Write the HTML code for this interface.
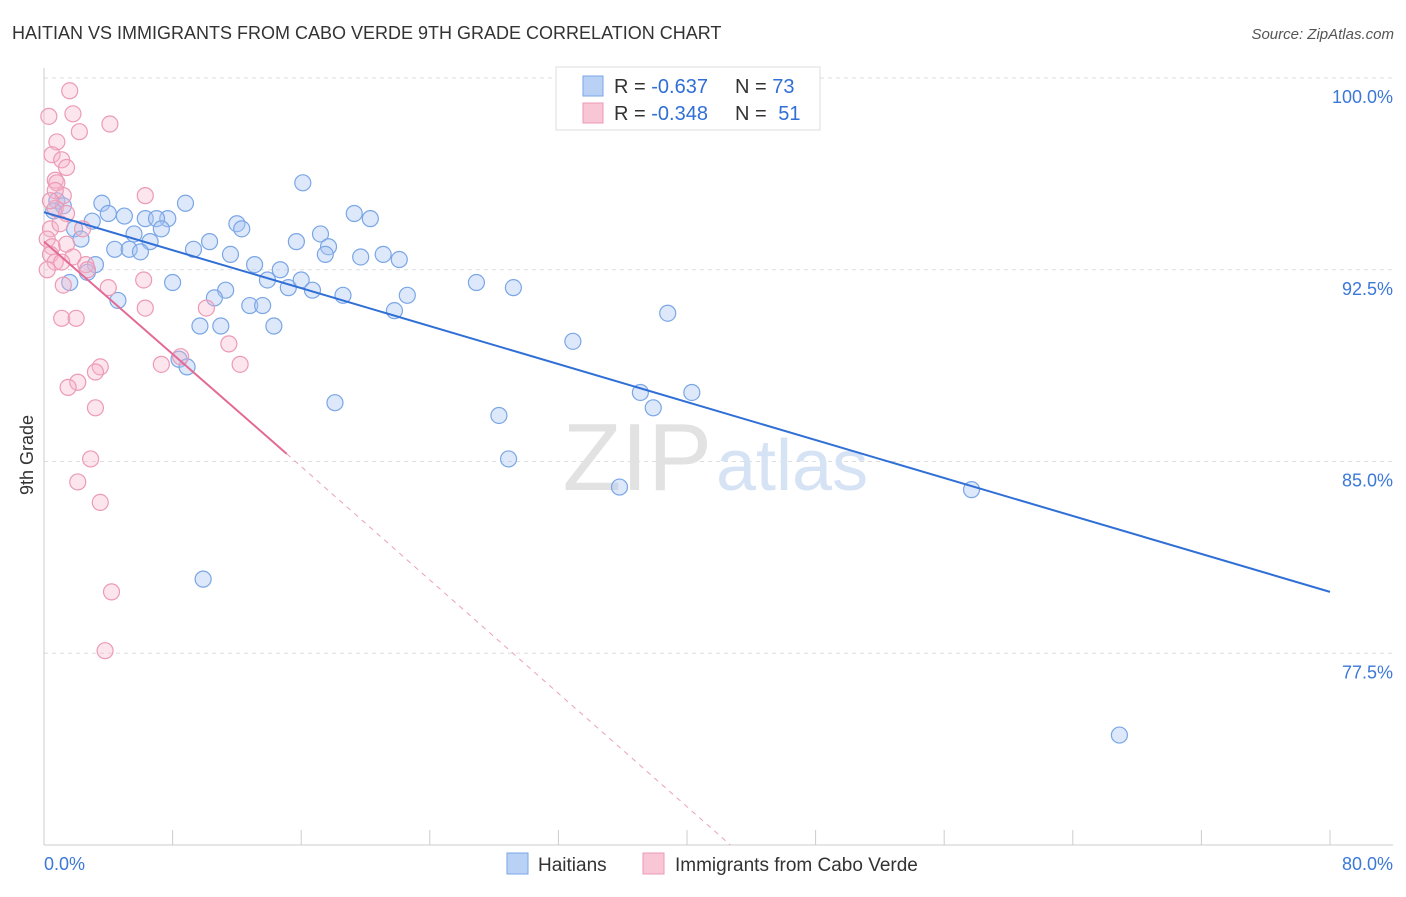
<!DOCTYPE html>
<html><head><meta charset="utf-8"><style>
body{margin:0;background:#fff;font-family:"Liberation Sans",sans-serif;}
svg text{font-family:"Liberation Sans",sans-serif;}
</style></head><body>
<svg id="chart" width="1406" height="892" xmlns="http://www.w3.org/2000/svg">
<text x="12" y="39" font-size="18" fill="#333">HAITIAN VS IMMIGRANTS FROM CABO VERDE 9TH GRADE CORRELATION CHART</text>
<text x="1394" y="39" font-size="15" fill="#555" text-anchor="end" font-style="italic">Source: ZipAtlas.com</text>
<g id="grid"></g>
<g id="axes"></g>
<text x="712" y="490" font-size="96" fill="#e2e2e2" text-anchor="end" font-family="Liberation Serif">ZIP</text>
<text x="716" y="490" font-size="72" fill="#d6e3f5">atlas</text>
<g id="marks"></g>
<text x="33" y="455" font-size="18" fill="#333" text-anchor="middle" transform="rotate(-90 33 455)">9th Grade</text>
<g>
<rect x="556" y="67" width="264" height="63" fill="#fff" stroke="#ddd"/>
<rect x="583" y="76" width="20" height="20" fill="#b9d1f5" stroke="#7aa6e6"/>
<rect x="583" y="103" width="20" height="20" fill="#f9c6d6" stroke="#ec9ab5"/>
<text x="614" y="93" font-size="20" fill="#333">R = <tspan fill="#2f6fd6">-0.637</tspan></text>
<text x="735" y="93" font-size="20" fill="#333">N = <tspan fill="#2f6fd6">73</tspan></text>
<text x="614" y="120" font-size="20" fill="#333">R = <tspan fill="#2f6fd6">-0.348</tspan></text>
<text x="735" y="120" font-size="20" fill="#333">N = <tspan fill="#2f6fd6" dx="6">51</tspan></text>
</g>
<g>
<rect x="507" y="853" width="21" height="21" fill="#b9d1f5" stroke="#7aa6e6"/>
<text x="538" y="871" font-size="19" fill="#333">Haitians</text>
<rect x="643" y="853" width="21" height="21" fill="#f9c6d6" stroke="#ec9ab5"/>
<text x="675" y="871" font-size="19" fill="#333">Immigrants from Cabo Verde</text>
</g>
</svg>
<script>
const blueX=[32.5,16.1,8.8,3.6,0.8,1.2,0.6,4.0,5.0,19.3,20.3,6.3,7.7,7.0,12.0,12.3,3.0,7.3,5.6,17.2,1.9,2.3,6.6,10.3,15.7,17.7,4.4,5.3,6.0,9.3,11.6,17.5,19.7,21.1,22.1,13.1,3.2,14.7,13.9,2.7,1.6,8.0,15.2,16.0,16.7,26.9,29.2,11.3,10.6,18.6,22.6,4.6,12.8,13.6,21.8,38.8,14.3,9.7,11.0,32.9,8.4,8.9,37.1,40.3,37.9,18.1,28.3,28.9,35.8,57.7,9.9,66.9];
const blueY=[100.0,95.9,95.1,95.1,95.2,95.0,94.8,94.7,94.6,94.7,94.5,94.5,94.5,94.5,94.3,94.1,94.4,94.1,93.9,93.9,94.1,93.7,93.6,93.6,93.6,93.4,93.3,93.3,93.2,93.3,93.1,93.1,93.0,93.1,92.9,92.7,92.7,92.5,92.1,92.4,92.0,92.0,91.8,92.1,91.7,92.0,91.8,91.7,91.4,91.5,91.5,91.3,91.1,91.1,90.9,90.8,90.3,90.3,90.3,89.7,89.0,88.7,87.7,87.7,87.1,87.3,86.8,85.1,84.0,83.9,80.4,74.3];
const pinkX=[1.6,1.8,0.3,4.1,2.2,0.8,0.5,1.1,1.4,0.7,0.8,6.3,1.2,0.7,1.4,0.4,2.4,0.2,1.4,0.5,0.4,1.8,0.7,1.1,2.6,2.7,0.2,6.2,1.2,4.0,6.3,10.1,1.1,2.0,11.5,7.3,8.5,12.2,3.5,3.2,2.1,1.5,3.2,2.9,2.1,3.5,4.2,3.8,0.7,0.4,1.0];
const pinkY=[99.5,98.6,98.5,98.2,97.9,97.5,97.0,96.8,96.5,96.0,95.9,95.4,95.4,94.9,94.7,94.1,94.1,93.7,93.5,93.4,93.1,93.0,92.8,92.8,92.7,92.5,92.5,92.1,91.9,91.8,91.0,91.0,90.6,90.6,89.6,88.8,89.1,88.8,88.7,88.5,88.1,87.9,87.1,85.1,84.2,83.4,79.9,77.6,95.6,95.2,94.3];
const blueTrend=[[0,94.75],[80,79.9]];
const pinkTrend=[[0,93.6],[15.1,85.3]];
const pinkDash=[[15.1,85.3],[42.7,70]];
const yTicks=[100,92.5,85,77.5];
const yTickLabels=["100.0%","92.5%","85.0%","77.5%"];
const xTicks=[0,8,16,24,32,40,48,56,64,72,80];
const xLabels=[[0,"0.0%"],[80,"80.0%"]];
const NS="http://www.w3.org/2000/svg";
const sx=v=>44+v*(1286/80);
const sy=v=>845-(v-70)*(767/30);
function mk(tag,attrs,parent){const e=document.createElementNS(NS,tag);for(const k in attrs)e.setAttribute(k,attrs[k]);parent.appendChild(e);return e;}
const grid=document.getElementById('grid'),axes=document.getElementById('axes'),marks=document.getElementById('marks');
yTicks.forEach((t,i)=>{
 const l=mk('line',{x1:44,x2:1393,y1:sy(t),y2:sy(t),stroke:'#ddd','stroke-dasharray':'4 4'},grid);
 
 
 const tx=mk('text',{x:1393,y:sy(t)+25,'font-size':18,fill:'#3b78d8','text-anchor':'end'},axes);
 tx.textContent=yTickLabels[i];
 
 
});
mk('line',{x1:44,x2:44,y1:68,y2:845,stroke:'#ccc'},axes);
mk('line',{x1:44,x2:1393,y1:845,y2:845,stroke:'#ccc'},axes);
xTicks.forEach(t=>{
 const l=mk('line',{x1:sx(t),x2:sx(t),y1:830,y2:845,stroke:'#ccc'},axes);
 
 
});
xLabels.forEach(([v,s])=>{
 const tx=mk('text',{x:v===0?44:1393,y:870,'font-size':18,fill:'#3b78d8','text-anchor':v===0?'start':'end'},axes);
 tx.textContent=s;
 
 
});
blueX.forEach((x,i)=>{
 const c=mk('circle',{cx:sx(x),cy:sy(blueY[i]),r:8,fill:'rgba(170,198,242,0.4)',stroke:'#7aa6e6','stroke-width':1.2},marks);
 
 
});
pinkX.forEach((x,i)=>{
 const c=mk('circle',{cx:sx(x),cy:sy(pinkY[i]),r:8,fill:'rgba(247,180,202,0.35)',stroke:'#ec9ab5','stroke-width':1.2},marks);
 
 
});
const bl=mk('line',{x1:sx(blueTrend[0][0]),y1:sy(blueTrend[0][1]),x2:sx(blueTrend[1][0]),y2:sy(blueTrend[1][1]),stroke:'#2f6fd6','stroke-width':2},marks);


const pl=mk('line',{x1:sx(pinkTrend[0][0]),y1:sy(pinkTrend[0][1]),x2:sx(pinkTrend[1][0]),y2:sy(pinkTrend[1][1]),stroke:'#e36a95','stroke-width':2},marks);


const pd=mk('line',{x1:sx(pinkDash[0][0]),y1:sy(pinkDash[0][1]),x2:sx(pinkDash[1][0]),y2:sy(pinkDash[1][1]),stroke:'#eaa0bb','stroke-width':1,'stroke-dasharray':'5 5'},marks);


</script>
</body></html>
